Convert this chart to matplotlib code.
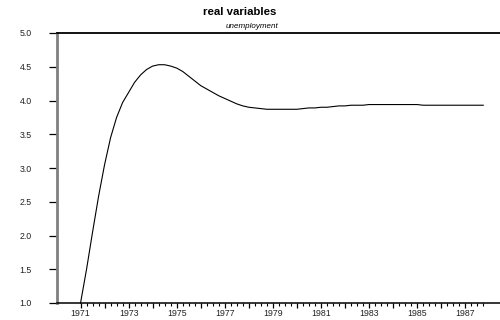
import matplotlib
matplotlib.use("Agg")
import matplotlib.pyplot as plt
import numpy as np

plt.rcParams['font.family'] = ['Liberation Sans', 'DejaVu Sans']

title = "real variables"
subtitle = "unemployment"

start_year = 1971.0
# quarterly values, 1971Q1 .. 1987Q4
unemployment = [
    1.00, 1.50, 2.05, 2.58,   # 1971
    3.05, 3.45, 3.75, 3.97,   # 1972
    4.12, 4.27, 4.38, 4.46,   # 1973
    4.51, 4.53, 4.53, 4.51,   # 1974
    4.48, 4.43, 4.36, 4.29,   # 1975
    4.22, 4.17, 4.12, 4.07,   # 1976
    4.03, 3.99, 3.95, 3.92,   # 1977
    3.90, 3.89, 3.88, 3.87,   # 1978
    3.87, 3.87, 3.87, 3.87,   # 1979
    3.87, 3.88, 3.89, 3.89,   # 1980
    3.90, 3.90, 3.91, 3.92,   # 1981
    3.92, 3.93, 3.93, 3.93,   # 1982
    3.94, 3.94, 3.94, 3.94,   # 1983
    3.94, 3.94, 3.94, 3.94,   # 1984
    3.94, 3.93, 3.93, 3.93,   # 1985
    3.93, 3.93, 3.93, 3.93,   # 1986
    3.93, 3.93, 3.93, 3.93,   # 1987
]
years_major = list(range(1971, 1988))
year_labels = [str(y) if y % 2 == 1 else "" for y in years_major]
y_ticks = [1.0, 1.5, 2.0, 2.5, 3.0, 3.5, 4.0, 4.5, 5.0]

t = start_year + np.arange(len(unemployment)) * 0.25

W, H = 500, 320
fig = plt.figure(figsize=(W / 100, H / 100), dpi=100)
left_px, right_px, top_px, bot_px = 56.5, 500, 33, 303
ax = fig.add_axes([left_px / W, (H - bot_px) / H, (right_px - left_px) / W, (bot_px - top_px) / H])

px_per_year = 24.04
ax.set_xlim(1970, 1970 + (right_px - left_px) / px_per_year)
ax.set_ylim(1.0, 5.0)

ax.plot(t, unemployment, color='black', lw=0.8, clip_on=False)

ax.spines['right'].set_visible(False)
ax.spines['left'].set_color('#808080')
ax.spines['left'].set_linewidth(2.0)
ax.spines['top'].set_color('black')
ax.spines['top'].set_linewidth(1.3)
ax.spines['bottom'].set_color('black')
ax.spines['bottom'].set_linewidth(1.1)

ax.set_yticks(y_ticks)
ax.set_yticklabels([f"{v:.1f}" for v in y_ticks])
ax.tick_params(axis='y', direction='out', length=5.8, width=0.9, color='black',
               labelsize=6.3, pad=12, labelcolor='#222222')

ax.set_xticks(years_major)
ax.set_xticklabels(year_labels)
minor = [y + q for y in range(1971, 1988) for q in (0.25, 0.5, 0.75)]
ax.set_xticks(minor, minor=True)
ax.tick_params(axis='x', which='major', direction='out', length=3.6, width=0.9,
               color='black', labelsize=6.3, pad=1.0, labelcolor='#222222')
ax.tick_params(axis='x', which='minor', direction='out', length=2.2, width=0.8,
               color='black')

fig.text(240 / W, 1 - 12 / H, title, ha='center', va='center',
         fontsize=8.2, fontweight='bold')
fig.text(278 / W, 1 - 26.5 / H, subtitle, ha='right', va='center',
         fontsize=5.8, style='italic')

fig.savefig("out.png", dpi=100)
